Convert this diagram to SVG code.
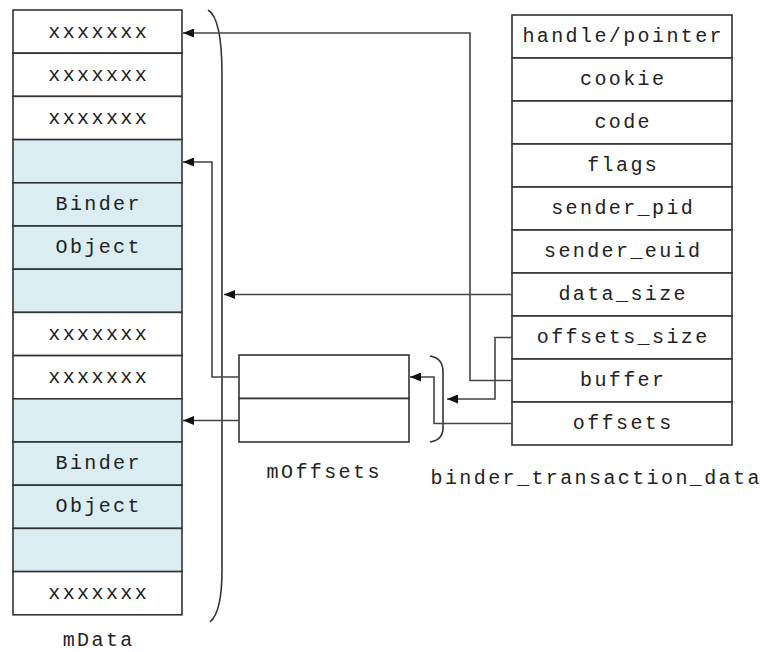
<svg xmlns="http://www.w3.org/2000/svg" width="766" height="652" viewBox="0 0 766 652">
<style>
  .cell{fill:#fff;stroke:#333;stroke-width:1.6}
  .blue{fill:#daedf3;stroke:#333;stroke-width:1.6}
  .t{font-family:"Liberation Mono","Courier New",monospace;font-size:20px;letter-spacing:2.4px;fill:#222;text-anchor:middle;dominant-baseline:central}
  .c{fill:none;stroke:#444;stroke-width:1.6}
  .br{fill:none;stroke:#333;stroke-width:1.6}
</style>
<defs>
  <marker id="ah" markerUnits="userSpaceOnUse" markerWidth="11" markerHeight="9" refX="11" refY="4.5" orient="auto">
    <path d="M0,0 L11,4.5 L0,9 z" fill="#111"/>
  </marker>
</defs>
<rect width="766" height="652" fill="#fff"/>

<g id="mData">
  <rect class="cell" x="13" y="10" width="169" height="43.2"/>
  <rect class="cell" x="13" y="53.2" width="169" height="43.2"/>
  <rect class="cell" x="13" y="96.4" width="169" height="43.2"/>
  <rect class="blue" x="13" y="139.6" width="169" height="43.2"/>
  <rect class="blue" x="13" y="182.8" width="169" height="43.2"/>
  <rect class="blue" x="13" y="226" width="169" height="43.2"/>
  <rect class="blue" x="13" y="269.2" width="169" height="43.2"/>
  <rect class="cell" x="13" y="312.4" width="169" height="43.2"/>
  <rect class="cell" x="13" y="355.6" width="169" height="43.2"/>
  <rect class="blue" x="13" y="398.8" width="169" height="43.2"/>
  <rect class="blue" x="13" y="442" width="169" height="43.2"/>
  <rect class="blue" x="13" y="485.2" width="169" height="43.2"/>
  <rect class="blue" x="13" y="528.4" width="169" height="43.2"/>
  <rect class="cell" x="13" y="571.6" width="169" height="43.2"/>
  <text class="t" x="98.7" y="32">xxxxxxx</text>
  <text class="t" x="98.7" y="75">xxxxxxx</text>
  <text class="t" x="98.7" y="118">xxxxxxx</text>
  <text class="t" x="98.7" y="204.5">Binder</text>
  <text class="t" x="98.7" y="247.5">Object</text>
  <text class="t" x="98.7" y="334">xxxxxxx</text>
  <text class="t" x="98.7" y="377">xxxxxxx</text>
  <text class="t" x="98.7" y="463.5">Binder</text>
  <text class="t" x="98.7" y="506.5">Object</text>
  <text class="t" x="98.7" y="593">xxxxxxx</text>
  <text class="t" x="98.7" y="640">mData</text>
  <path class="br" d="M208,10 Q222,18 222,75 L222,570 Q222,612 210,622"/>
</g>

<g id="mOffsets">
  <rect class="cell" x="239" y="355" width="170" height="43.5"/>
  <rect class="cell" x="239" y="398.5" width="170" height="43.5"/>
  <text class="t" x="324.2" y="472">mOffsets</text>
  <path class="br" d="M430,356 Q443,358 443,372 L443,428 Q443,440 430,442"/>
</g>

<g id="binder_transaction_data">
  <rect class="cell" x="512" y="15" width="220" height="43"/>
  <rect class="cell" x="512" y="58" width="220" height="43"/>
  <rect class="cell" x="512" y="101" width="220" height="43"/>
  <rect class="cell" x="512" y="144" width="220" height="43"/>
  <rect class="cell" x="512" y="187" width="220" height="43"/>
  <rect class="cell" x="512" y="230" width="220" height="43"/>
  <rect class="cell" x="512" y="273" width="220" height="43"/>
  <rect class="cell" x="512" y="316" width="220" height="43"/>
  <rect class="cell" x="512" y="359" width="220" height="43"/>
  <rect class="cell" x="512" y="402" width="220" height="43"/>
  <text class="t" x="623.2" y="36.5">handle/pointer</text>
  <text class="t" x="623.2" y="79.5">cookie</text>
  <text class="t" x="623.2" y="122.5">code</text>
  <text class="t" x="623.2" y="165.5">flags</text>
  <text class="t" x="623.2" y="208.5">sender_pid</text>
  <text class="t" x="623.2" y="251.5">sender_euid</text>
  <text class="t" x="623.2" y="294.5">data_size</text>
  <text class="t" x="623.2" y="337.5">offsets_size</text>
  <text class="t" x="623.2" y="380.5">buffer</text>
  <text class="t" x="623.2" y="423.5">offsets</text>
  <text class="t" x="596.2" y="478">binder_transaction_data</text>
</g>

<g id="connectors">
  <path class="c" d="M512,380.5 H470 V33 H183" marker-end="url(#ah)"/>
  <path class="c" d="M512,294.5 H224" marker-end="url(#ah)"/>
  <path class="c" d="M512,337.5 H495 V399 H447" marker-end="url(#ah)"/>
  <path class="c" d="M512,423.5 H434 V377 H410" marker-end="url(#ah)"/>
  <path class="c" d="M239,377 H212 V162 H183" marker-end="url(#ah)"/>
  <path class="c" d="M239,420.5 H183" marker-end="url(#ah)"/>
</g>
</svg>
